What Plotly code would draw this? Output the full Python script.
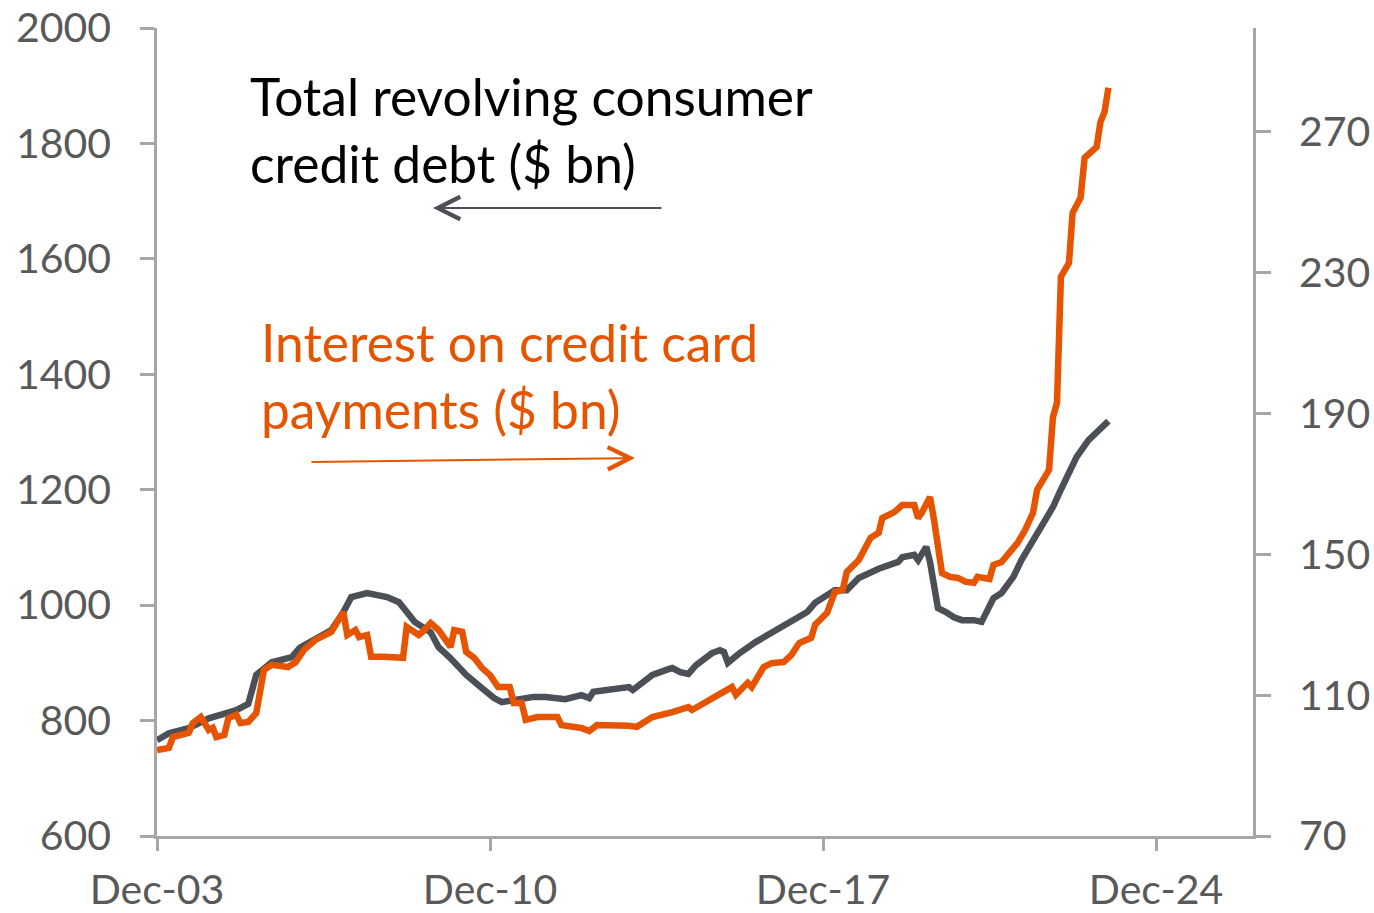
import plotly.graph_objects as go

# Total revolving consumer credit debt ($ bn) - left axis
debt_dates = ["2003-12", "2004-03", "2004-08", "2005-01", "2005-04", "2005-08", "2005-11", "2006-01",
              "2006-05", "2006-10", "2006-12", "2007-04", "2007-08", "2007-11", "2008-01", "2008-05",
              "2008-08", "2008-10", "2009-01", "2009-02", "2009-05", "2009-09", "2009-11", "2010-02",
              "2010-04", "2010-06", "2010-10", "2011-01", "2011-03", "2011-06", "2011-11", "2012-02",
              "2012-07", "2012-11", "2013-01", "2013-02", "2013-07", "2013-11", "2013-12", "2014-02",
              "2014-05", "2014-09", "2014-10", "2014-12", "2015-02", "2015-04", "2015-08", "2015-10",
              "2015-11", "2015-12", "2016-03", "2016-07", "2016-10", "2017-01", "2017-04", "2017-08",
              "2017-10", "2018-03", "2018-06", "2018-09", "2019-02", "2019-07", "2019-08", "2019-11",
              "2019-12", "2020-02", "2020-03", "2020-04", "2020-05", "2020-07", "2020-09", "2020-11",
              "2021-02", "2021-04", "2021-06", "2021-07", "2021-09", "2021-12", "2022-02", "2022-04",
              "2022-07", "2022-10", "2022-12", "2023-02", "2023-04", "2023-07", "2023-09", "2023-12"]
debt_values = [766, 778, 787, 804, 810, 818, 829, 879,
               901, 910, 926, 940, 957, 988, 1014, 1021,
               1018, 1014, 1005, 997, 971, 953, 927, 908,
               893, 879, 856, 839, 832, 836, 841, 841,
               837, 844, 839, 850, 853, 858, 853, 865,
               879, 889, 891, 884, 881, 896, 917, 922,
               919, 900, 917, 936, 948, 960, 974, 988,
               1004, 1026, 1026, 1047, 1063, 1075, 1083, 1087,
               1078, 1101, 1075, 1026, 995, 988, 979, 974,
               974, 971, 997, 1012, 1021, 1049, 1078, 1101,
               1135, 1170, 1200, 1230, 1257, 1286, 1300, 1319]

# Interest on credit card payments ($ bn) - right axis
int_dates = ["2003-12", "2004-03", "2004-04", "2004-08", "2004-09", "2004-11", "2005-01", "2005-02",
             "2005-03", "2005-05", "2005-06", "2005-08", "2005-09", "2005-11", "2006-01", "2006-03",
             "2006-05", "2006-09", "2006-11", "2007-01", "2007-04", "2007-08", "2007-11", "2007-12",
             "2008-02", "2008-03", "2008-05", "2008-06", "2008-09", "2009-01", "2009-02", "2009-03",
             "2009-06", "2009-07", "2009-09", "2009-11", "2010-02", "2010-03", "2010-05", "2010-06",
             "2010-08", "2010-10", "2010-12", "2011-02", "2011-05", "2011-06", "2011-08", "2011-09",
             "2011-12", "2012-05", "2012-06", "2012-11", "2013-01", "2013-03", "2013-07", "2013-11",
             "2014-01", "2014-05", "2014-10", "2015-02", "2015-03", "2015-08", "2016-01", "2016-02",
             "2016-05", "2016-06", "2016-09", "2016-11", "2017-02", "2017-04", "2017-06", "2017-09",
             "2017-10", "2018-01", "2018-03", "2018-05", "2018-06", "2018-09", "2018-10", "2018-12",
             "2019-02", "2019-03", "2019-06", "2019-08", "2019-11", "2019-12", "2020-01", "2020-03",
             "2020-04", "2020-06", "2020-08", "2020-10", "2020-12", "2021-02", "2021-03", "2021-06",
             "2021-07", "2021-09", "2022-01", "2022-03", "2022-05", "2022-06", "2022-09", "2022-10",
             "2022-11", "2022-12", "2023-02", "2023-03", "2023-05", "2023-06", "2023-09", "2023-10",
             "2023-11", "2023-12"]
int_values = [94.4, 95.0, 98.1, 99.3, 102.1, 103.8, 100.1, 100.7,
              98.1, 98.7, 103.5, 104.4, 102.1, 102.4, 104.9, 117.2,
              118.6, 118.0, 119.4, 122.8, 125.7, 128.0, 133.6, 127.1,
              128.5, 126.5, 127.1, 120.9, 120.9, 120.9, 120.6, 129.4,
              127.1, 128.0, 130.5, 128.5, 123.7, 128.5, 128.0, 122.3,
              120.6, 117.7, 115.7, 112.3, 112.3, 107.8, 107.8, 103.0,
              103.8, 103.8, 101.5, 100.7, 99.8, 101.5, 101.5, 101.3,
              101.0, 103.8, 105.2, 106.6, 105.8, 109.2, 112.3, 110.1,
              113.5, 112.3, 118.0, 119.1, 119.4, 121.4, 124.8, 126.3,
              130.0, 133.4, 139.3, 139.9, 145.0, 148.4, 150.7, 154.7,
              156.1, 160.3, 162.0, 164.0, 164.0, 160.3, 162.0, 166.3,
              159.8, 144.7, 143.6, 143.3, 142.2, 141.9, 143.6, 143.0,
              147.0, 147.8, 153.2, 156.9, 161.8, 168.3, 174.0, 189.0,
              193.0, 228.8, 232.8, 247.0, 251.3, 262.6, 265.7, 272.8,
              275.7, 282.5]

ORANGE = "#E65400"
GREY = "#4B5057"
AXIS = "#A6A6A6"
TICKFONT = dict(family="Lato", size=41, color="#595959")

fig = go.Figure()
fig.add_trace(go.Scatter(x=debt_dates, y=debt_values, mode="lines",
                         line=dict(color=GREY, width=6.5), yaxis="y", showlegend=False))
fig.add_trace(go.Scatter(x=int_dates, y=int_values, mode="lines",
                         line=dict(color=ORANGE, width=6.5), yaxis="y2", showlegend=False))

fig.update_layout(
    width=1374, height=913,
    margin=dict(l=157, r=121, t=28, b=77),
    paper_bgcolor="white", plot_bgcolor="white",
    xaxis=dict(type="date", range=["2003-12-01", "2026-12-15"],
               tick0="2003-12-01", dtick="M84", tickformat="%b-%y",
               showgrid=False, zeroline=False, showline=True, linecolor=AXIS, linewidth=2.5,
               ticks="outside", ticklen=12, tickwidth=2.5, tickcolor=AXIS, automargin=False,
               tickfont=TICKFONT, ticklabelstandoff=4, ticklabeloverflow="allow"),
    yaxis=dict(range=[600, 2000], tick0=600, dtick=200, showgrid=False, zeroline=False,
               showline=True, linecolor=AXIS, linewidth=2.5, automargin=False,
               ticks="outside", ticklen=14, tickwidth=2.5, tickcolor=AXIS,
               tickfont=TICKFONT, ticklabelstandoff=21, ticklabeloverflow="allow"),
    yaxis2=dict(range=[70, 299.5], tick0=70, dtick=40, overlaying="y", side="right",
                showgrid=False, zeroline=False, automargin=False,
                showline=True, linecolor=AXIS, linewidth=2.5,
                ticks="outside", ticklen=15, tickwidth=2.5, tickcolor=AXIS,
                tickfont=TICKFONT, ticklabelstandoff=20, ticklabeloverflow="allow"),
    font=dict(family="Lato"),
)

fig.add_annotation(xref="paper", yref="paper", x=0.083, y=0.957, xanchor="left", yanchor="top",
                   text="Total revolving consumer<br>credit debt ($ bn)", showarrow=False, align="left",
                   font=dict(family="Lato", size=51.5, color="#000000"))
fig.add_annotation(xref="paper", yref="paper", x=0.093, y=0.652, xanchor="left", yanchor="top",
                   text="Interest on credit card<br>payments ($ bn)", showarrow=False, align="left",
                   font=dict(family="Lato", size=51.5, color=ORANGE))
fig.add_annotation(xref="paper", yref="paper", x=0.2518, y=0.7772, text="", showarrow=True,
                   ax=230, ay=0, arrowhead=5, arrowwidth=2, arrowsize=2.2, arrowcolor=GREY)
fig.add_annotation(xref="paper", yref="paper", x=0.4361, y=0.4678, text="", showarrow=True,
                   ax=-325, ay=4, arrowhead=5, arrowwidth=2, arrowsize=2.2, arrowcolor=ORANGE)

fig.write_html("out.html", config={"displayModeBar": False},
               post_script="document.body.style.margin='0';document.body.style.overflow='hidden';")
